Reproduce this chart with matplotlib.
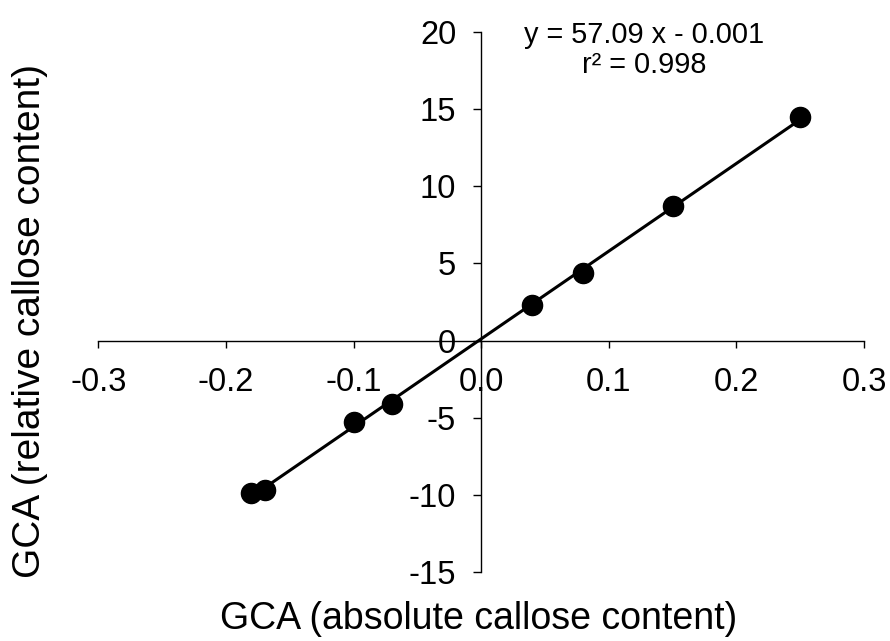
import numpy as np
import matplotlib
matplotlib.use('Agg')
import matplotlib.pyplot as plt

plt.rcParams['font.family'] = ['Liberation Sans', 'DejaVu Sans']

# GCA measurements: absolute vs relative callose content
absolute = [-0.180, -0.169, -0.100, -0.070, 0.040, 0.080, 0.150, 0.250]
relative = [-9.9, -9.7, -5.3, -4.1, 2.3, 4.4, 8.7, 14.5]

xticks = [-0.3, -0.2, -0.1, 0.0, 0.1, 0.2, 0.3]
yticks = [-15, -10, -5, 0, 5, 10, 15, 20]

x = np.array(absolute)
y = np.array(relative)
slope, intercept = np.polyfit(x, y, 1)
xf = np.array([x.min(), x.max()])

fig = plt.figure(figsize=(8.9, 6.41), dpi=100)
ax = fig.add_axes([0.1104, 0.1081, 0.8604, 0.8415])

ax.plot(xf, slope * xf + intercept, color='black', lw=2.2, zorder=2)
ax.plot(x, y, 'o', color='black', ms=14.5, zorder=3)

ax.set_xlim(-0.3, 0.3)
ax.set_ylim(-15, 20)
ax.set_xticks(xticks)
ax.set_yticks(yticks)
ax.set_xticklabels(['%.1f' % v for v in xticks])
ax.set_yticklabels(['%d' % v for v in yticks])

ax.spines['left'].set_position(('data', 0))
ax.spines['bottom'].set_position(('data', 0))
ax.spines['top'].set_visible(False)
ax.spines['right'].set_visible(False)
for s in ['left', 'bottom']:
    ax.spines[s].set_linewidth(1.0)
ax.tick_params(axis='x', direction='out', length=5, width=1, labelsize=23.5, pad=14)
ax.tick_params(axis='y', direction='out', length=6, width=1, labelsize=23.5, pad=12)

ax.text(0.128, 18.85, 'y = 57.09 x - 0.001\nr\u00b2 = 0.998', ha='center', va='center',
        multialignment='center', fontsize=20.8, linespacing=1.1)

fig.text(0.538, 0.034, 'GCA (absolute callose content)', ha='center', va='center', fontsize=27)
fig.text(0.034, 0.5, 'GCA (relative callose content)', ha='center', va='center',
         rotation=90, fontsize=28)

fig.savefig('out.png', dpi=100)
